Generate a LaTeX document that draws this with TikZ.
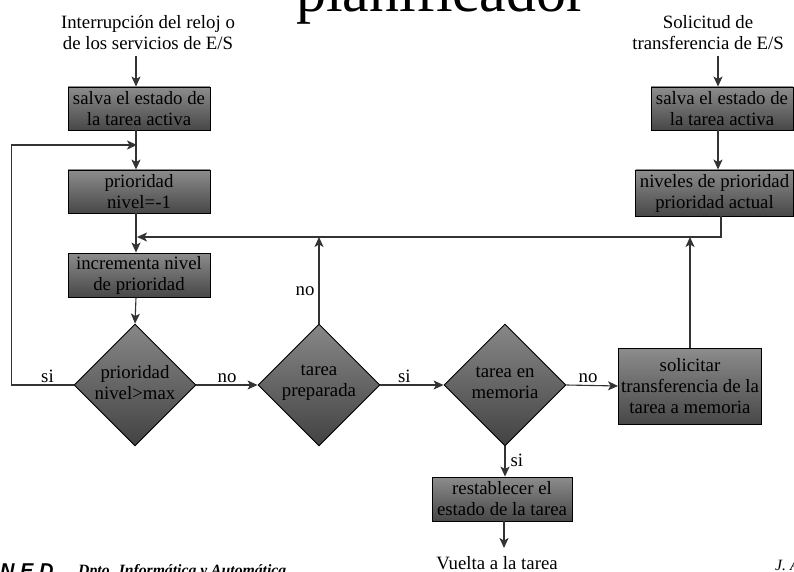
\documentclass[tikz,border=0pt]{standalone}
\usepackage{fontspec}
\setmainfont{Liberation Serif}
\setsansfont{Liberation Sans}
\usetikzlibrary{arrows.meta,shapes.geometric,calc}

\begin{document}
\begin{tikzpicture}[x=1pt,y=-1pt,
  font=\fontsize{18.8}{21}\selectfont,
  line/.style={draw=black!80, line width=1.1pt},
  flow/.style={line, -{Stealth[length=10pt,width=9pt,inset=2.5pt]}},
  stepbox/.style={draw=black, line width=0.9pt, top color=black!45, bottom color=black!72,
    minimum width=142pt, minimum height=43pt, inner sep=0pt, align=center},
  decision/.style={diamond, aspect=1, draw=black, line width=0.9pt,
    top color=black!47, bottom color=black!74, minimum width=122pt, minimum height=122pt, inner sep=0pt},
  caption/.style={inner sep=0pt, align=center},
  lbl/.style={inner sep=0pt},
]
\useasboundingbox (0,0) rectangle (794,572);
\clip (0,0) rectangle (794,572);

% slide title and footer
\node[anchor=base, font=\fontsize{60}{60}\selectfont, inner sep=0pt] (title) at (441,12) {planificador};
\node[anchor=base west, font=\sffamily\bfseries\itshape\fontsize{20}{20}\selectfont, inner sep=0pt] (uned) at (-20,577) {U N E D};
\node[anchor=base west, font=\bfseries\itshape\fontsize{15.7}{16}\selectfont, inner sep=0pt] (dept) at (78,575.5) {Dpto. Informática y Automática};
\node[anchor=base west, font=\itshape\fontsize{15.7}{16}\selectfont, inner sep=0pt] (auth) at (775,570) {J. A};

% left column
\node[caption] (src1) at (148,33) {Interrupción del reloj o\\de los servicios de E/S};
\node[stepbox] (save1) at (139,108.5) {salva el estado de\\la tarea activa};
\node[stepbox] (prio) at (139,191.5) {prioridad\\nivel=-1};
\node[stepbox, minimum height=44pt] (inc) at (139,275) {incrementa nivel\\de prioridad};

% decisions
\node[decision] (d1) at (135,385) {};
\node[caption] (d1t) at (135,383) {prioridad\\nivel>max};
\node[decision] (d2) at (319,385) {};
\node[caption] (d2t) at (319,383) {tarea\\preparada};
\node[decision] (d3) at (505,385) {};
\node[caption] (d3t) at (505,383) {tarea en\\memoria};

\node[stepbox, minimum width=143pt, minimum height=76pt] (req) at (690,386) {solicitar\\transferencia de la\\tarea a memoria};
\node[stepbox, minimum width=140pt, minimum height=44pt] (rest) at (502,499) {restablecer el\\estado de la tarea};
\node[caption] (back) at (497,563) {Vuelta a la tarea};

% right column
\node[caption] (src2) at (708,33) {Solicitud de\\transferencia de E/S};
\node[stepbox] (save2) at (722,108.5) {salva el estado de\\la tarea activa};
\node[stepbox, minimum width=158pt, minimum height=46pt] (lvl) at (714.5,193) {niveles de prioridad\\prioridad actual};

% junction points
\coordinate (in1) at (136,56);
\coordinate (j1) at (137,145);
\coordinate (j2) at (137,237);
\coordinate (c2) at (721,237);
\coordinate (in2) at (718,56);
\coordinate (out) at (504,548);

% left column flow
\draw[flow] (in1) -- (save1.north -| in1);
\draw[flow] (save1.south -| in1) -- (prio.north -| in1);
\draw[flow] (prio.south -| in1) -- (inc.north -| in1);
\draw[flow] (inc.south -| in1) -- (d1.north);

% loop back when level exceeds max
\draw[flow] (d1.west) -- node[lbl, above=2pt, pos=0.42] {si} ++(-62,0) |- (j1);

% decision chain
\draw[flow] (d1.east) -- node[lbl, above=2pt] {no} (d2.west);
\draw[flow] (d2.east) -- node[lbl, above=2pt, pos=0.38] {si} (d3.west);
\draw[flow] (d3.east) -- node[lbl, above=2pt, pos=0.42] {no} (req.west);
\draw[flow] (d2.north) -- node[lbl, left=4pt, pos=0.37] {no} (d2.north |- j2);
\draw[flow] (req.north) -- (req.north |- j2);
\draw[flow] (d3.south) -- node[lbl, right=5pt, pos=0.45] {si} (rest.north -| d3.south);
\draw[flow] (rest.south -| out) -- (out);

% right column flow
\draw[flow] (in2) -- (save2.north -| in2);
\draw[flow] (save2.south -| in2) -- (lvl.north -| in2);
\draw[flow] (lvl.south -| c2) -- (c2) -- (j2);
\end{tikzpicture}
\end{document}
